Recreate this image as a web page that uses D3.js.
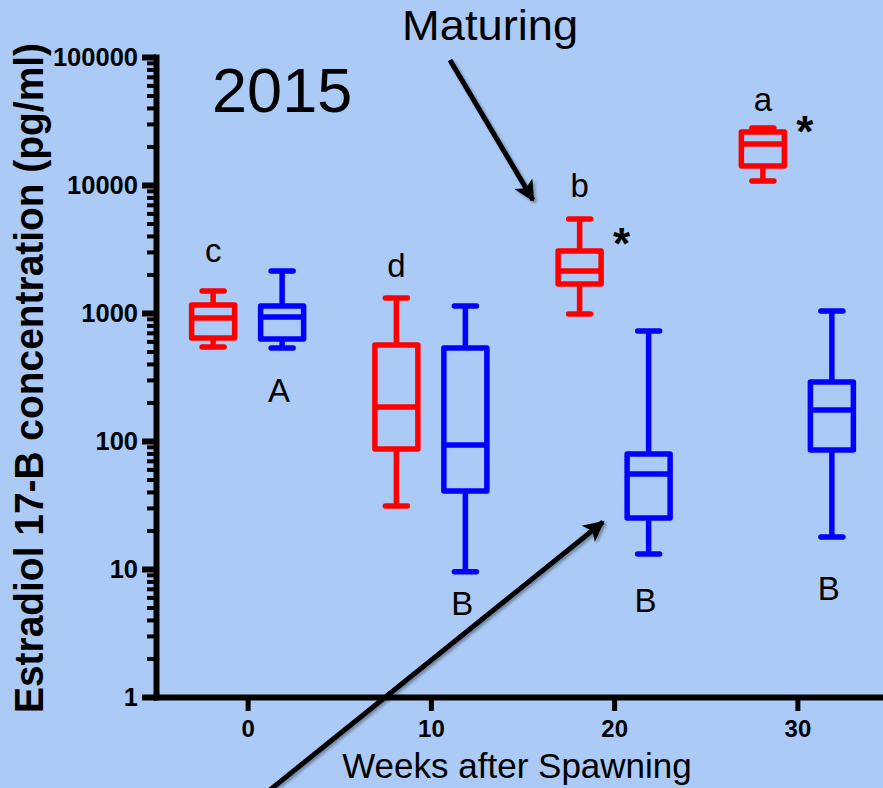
<!DOCTYPE html>
<html>
<head>
<meta charset="utf-8">
<script src="https://cdn.jsdelivr.net/npm/d3@7"></script>
<style>
  html, body { margin: 0; padding: 0; background: #abcaf6; }
  svg { display: block; }
  text { font-family: "Liberation Sans", Arial, Helvetica, sans-serif; }
</style>
</head>
<body>
<svg id="chart" width="883" height="788"></svg>
<script>
// ---------- DATA ----------
const weeks = [0, 10, 20, 30];
const seriesNames = ["Maturing", "Non-maturing"];

const maturingMin    = [542, 31, 982, 10750];
const maturingQ1     = [638, 86.6, 1686, 14070];
const maturingMedian = [914, 184, 2130, 20900];
const maturingQ3     = [1155, 562, 3050, 25950];
const maturingMax    = [1486, 1309, 5420, 27880];

const nonMin    = [533, 9.5, 13.1, 17.8];
const nonQ1     = [626, 40.7, 25, 85];
const nonMedian = [930, 93, 55.2, 175];
const nonQ3     = [1135, 533, 79, 289];
const nonMax    = [2128, 1135, 723, 1037];

const maturingLetters = ["c", "d", "b", "a"];
const maturingLetterAt = [2500, 1910, 8060, 37800];
const nonLetters = ["A", "B", "B", "B"];
const nonLetterAt = [202, 4.37, 4.61, 5.72];
const significance = ["", "", "*", "*"];
const significanceAt = [null, null, 4066, 30500];

const yMajorTicks = [1, 10, 100, 1000, 10000, 100000];
const xTickLabels = ["0", "10", "20", "30"];

const yTitle = "Estradiol 17-B concentration (pg/ml)";
const xTitle = "Weeks after Spawning";
const yearLabel = "2015";
const yearAt = [-1.94, 37150];
const maturingNote = "Maturing";
const maturingNoteAt = [13.23, 135800];
// annotation arrows in data coordinates: [week, value] start -> end
const arrows = [
  [[11.04, 94800], [15.57, 7640]],
  [[1.22, 0.188], [19.39, 23.3]]
];

// ---------- BUILD ----------
const colors = { "Maturing": "#ff0000", "Non-maturing": "#0000ff" };
const series = [
  { name: "Maturing", min: maturingMin, q1: maturingQ1, med: maturingMedian, q3: maturingQ3, max: maturingMax },
  { name: "Non-maturing", min: nonMin, q1: nonQ1, med: nonMedian, q3: nonQ3, max: nonMax }
];

const svg = d3.select("#chart");

const x = d3.scaleLinear().domain([-5, 35]).range([156, 889]);
const y = d3.scaleLog().domain([1, 100000]).range([697, 57]);
const offset = d3.scalePoint().domain(seriesNames).range([-34.5, 34.5]);

const boxW = 43, capW = 22, sw = 5.5;

// defs
const defs = svg.append("defs");
const f = defs.append("filter").attr("id", "shadow").attr("x", "-20%").attr("y", "-20%").attr("width", "140%").attr("height", "140%");
f.append("feDropShadow").attr("dx", 2).attr("dy", 2).attr("stdDeviation", 1.8).attr("flood-color", "#000").attr("flood-opacity", 0.35);
defs.append("marker").attr("id", "arrowhead")
  .attr("viewBox", "0 0 10 10").attr("refX", 9).attr("refY", 5)
  .attr("markerWidth", 4.6).attr("markerHeight", 4.2).attr("markerUnits", "strokeWidth")
  .attr("orient", "auto")
  .append("path").attr("d", "M0,0 L10,5 L0,10 L2.5,5 Z").attr("fill", "#000");

// y minor ticks
const minor = [];
for (let k = 0; k < 5; k++) for (let m = 2; m <= 9; m++) minor.push(m * Math.pow(10, k));
const yMinor = svg.append("g").attr("transform", "translate(156,0)")
  .call(d3.axisLeft(y).tickValues(minor).tickFormat("").tickSize(9).tickSizeOuter(0));
yMinor.select(".domain").remove();
yMinor.selectAll(".tick line").attr("stroke", "#000").attr("stroke-width", 4);

// y major axis
const yAxis = svg.append("g").attr("transform", "translate(156,0)")
  .call(d3.axisLeft(y).tickValues(yMajorTicks).tickFormat(d3.format("d")).tickSize(14).tickSizeOuter(0).tickPadding(4));
yAxis.select(".domain").attr("stroke", "#000").attr("stroke-width", 6).attr("stroke-linecap", "square");
yAxis.selectAll(".tick line").attr("stroke", "#000").attr("stroke-width", 6);
yAxis.selectAll(".tick text").attr("fill", "#000").attr("font-size", 25.5).attr("font-weight", "bold")
  .attr("font-family", "'Liberation Sans', Arial, sans-serif");

// x axis
const xAxis = svg.append("g").attr("transform", "translate(0,697)")
  .call(d3.axisBottom(x).tickValues(weeks).tickFormat((d, i) => xTickLabels[i]).tickSize(14).tickSizeOuter(0).tickPadding(9));
xAxis.select(".domain").attr("stroke", "#000").attr("stroke-width", 6).attr("stroke-linecap", "square");
xAxis.selectAll(".tick line").attr("stroke", "#000").attr("stroke-width", 5);
xAxis.selectAll(".tick text").attr("fill", "#000").attr("font-size", 24).attr("font-weight", "bold")
  .attr("font-family", "'Liberation Sans', Arial, sans-serif");

// boxes
series.forEach(s => {
  const g = svg.append("g").attr("stroke", colors[s.name]).attr("stroke-width", sw).attr("fill", "none");
  weeks.forEach((w, i) => {
    const cx = x(w) + offset(s.name);
    g.append("line").attr("x1", cx).attr("x2", cx).attr("y1", y(s.q3[i])).attr("y2", y(s.max[i]));
    g.append("line").attr("x1", cx).attr("x2", cx).attr("y1", y(s.q1[i])).attr("y2", y(s.min[i]));
    g.append("line").attr("x1", cx - capW / 2).attr("x2", cx + capW / 2).attr("y1", y(s.max[i])).attr("y2", y(s.max[i])).attr("stroke-linecap", "round");
    g.append("line").attr("x1", cx - capW / 2).attr("x2", cx + capW / 2).attr("y1", y(s.min[i])).attr("y2", y(s.min[i])).attr("stroke-linecap", "round");
    g.append("rect").attr("x", cx - boxW / 2).attr("width", boxW)
      .attr("y", y(s.q3[i])).attr("height", y(s.q1[i]) - y(s.q3[i])).attr("stroke-linejoin", "round");
    g.append("line").attr("x1", cx - boxW / 2).attr("x2", cx + boxW / 2).attr("y1", y(s.med[i])).attr("y2", y(s.med[i]));
  });
});

// group letters
weeks.forEach((w, i) => {
  svg.append("text").attr("x", x(w) + offset("Maturing")).attr("y", y(maturingLetterAt[i]))
    .attr("text-anchor", "middle").attr("font-size", 33).attr("fill", "#000").text(maturingLetters[i]);
  svg.append("text").attr("x", x(w) + offset("Non-maturing") - 3).attr("y", y(nonLetterAt[i]))
    .attr("text-anchor", "middle").attr("font-size", 33).attr("fill", "#000").text(nonLetters[i]);
  if (significance[i]) {
    svg.append("text").attr("x", x(w) + offset("Maturing") + 42).attr("y", y(significanceAt[i]) + 24)
      .attr("text-anchor", "middle").attr("font-size", 44).attr("font-weight", "bold").attr("fill", "#000").text(significance[i]);
  }
});

// year label
svg.append("text").attr("x", x(yearAt[0])).attr("y", y(yearAt[1]))
  .attr("font-size", 63).attr("fill", "#000").text(yearLabel);

// Maturing note
svg.append("text").attr("x", x(maturingNoteAt[0])).attr("y", y(maturingNoteAt[1]))
  .attr("text-anchor", "middle").attr("font-size", 42).attr("fill", "#000")
  .attr("font-family", "Lato, 'Open Sans', sans-serif")
  .attr("textLength", 176).attr("lengthAdjust", "spacingAndGlyphs").text(maturingNote);

// arrows
arrows.forEach(a => {
  svg.append("line")
    .attr("x1", x(a[0][0])).attr("y1", y(a[0][1]))
    .attr("x2", x(a[1][0])).attr("y2", y(a[1][1]))
    .attr("stroke", "#000").attr("stroke-width", 5)
    .attr("marker-end", "url(#arrowhead)")
    .attr("filter", "url(#shadow)");
});

// axis titles
svg.append("text").attr("transform", "translate(43,378) rotate(-90)")
  .attr("text-anchor", "middle").attr("font-size", 40).attr("font-weight", "bold").attr("fill", "#000")
  .attr("textLength", 670).attr("lengthAdjust", "spacingAndGlyphs").text(yTitle);

svg.append("text").attr("x", 517).attr("y", 778)
  .attr("text-anchor", "middle").attr("font-size", 35).attr("fill", "#000").text(xTitle);
</script>
</body>
</html>
